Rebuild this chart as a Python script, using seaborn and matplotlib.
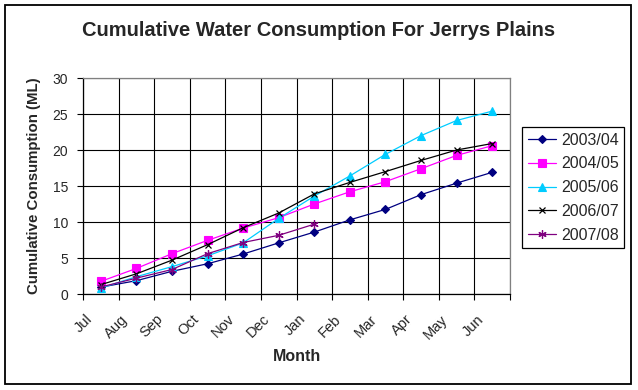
import numpy as np
import pandas as pd
import seaborn as sns
import matplotlib
matplotlib.use("Agg")
import matplotlib.pyplot as plt
from matplotlib.transforms import ScaledTranslation
from matplotlib.patches import Rectangle
from matplotlib.ticker import FixedLocator, MultipleLocator

months = ["Jul", "Aug", "Sep", "Oct", "Nov", "Dec", "Jan", "Feb", "Mar", "Apr", "May", "Jun"]
s2003_04 = [0.95, 1.85, 3.15, 4.2, 5.55, 7.1, 8.6, 10.3, 11.75, 13.8, 15.4, 16.9]
s2004_05 = [1.75, 3.55, 5.6, 7.45, 9.15, 10.6, 12.5, 14.2, 15.6, 17.4, 19.25, 20.6]
s2005_06 = [0.83, 2.4, 3.8, 5.3, 7.1, 10.5, 13.6, 16.4, 19.4, 22.0, 24.1, 25.4]
s2006_07 = [1.3, 2.8, 4.7, 6.85, 9.2, 11.25, 13.9, 15.5, 17.0, 18.55, 20.0, 20.9]
s2007_08 = [0.97, 2.2, 3.4, 5.6, 7.15, 8.15, 9.7]
series_names = ["2003/04", "2004/05", "2005/06", "2006/07", "2007/08"]
series_values = [s2003_04, s2004_05, s2005_06, s2006_07, s2007_08]

styles = {
    "2003/04": dict(color="#000080", marker="D", markersize=4.2, mec="#000080", mew=0.8),
    "2004/05": dict(color="#FF00FF", marker="s", markersize=5.2, mec="#FF00FF", mew=0.8),
    "2005/06": dict(color="#00CCFF", marker="^", markersize=5.5, mec="#00CCFF", mew=0.8),
    "2006/07": dict(color="#000000", marker="x", markersize=5.0, mec="#000000", mew=0.9),
    "2007/08": dict(color="#800080", marker=(6, 2, 0), markersize=6.0, mec="#800080", mew=0.9),
}

sns.set_theme(style="white")
plt.rcParams["font.family"] = ["Liberation Sans", "DejaVu Sans"]

W, H = 638, 390
fig = plt.figure(figsize=(W / 100, H / 100), dpi=100)
fig.patch.set_facecolor("white")
ax = fig.add_axes([83 / W, 1 - 294 / H, (510 - 83) / W, (294 - 78) / H])
ax.set_facecolor("white")

for name, vals in zip(series_names, series_values):
    st = styles[name]
    x = np.arange(len(vals))
    sns.lineplot(x=x, y=vals, ax=ax, color=st["color"], linewidth=0.9,
                 marker=st["marker"], markersize=st["markersize"],
                 markeredgecolor=st["mec"], markeredgewidth=st["mew"],
                 label=name, legend=False)

n = len(months)
ax.set_xlim(-0.5, n - 0.5)
ax.set_ylim(0, 30)
ax.yaxis.set_major_locator(MultipleLocator(5))
ax.set_xticks(np.arange(n))
ax.set_xticklabels(months, rotation=45, ha="right", fontsize=10.5)
ax.xaxis.set_minor_locator(FixedLocator(np.arange(-0.5, n, 1.0)))
ax.tick_params(axis="x", which="major", length=0, pad=13)
ax.tick_params(axis="x", which="minor", length=4, width=0.8, color="black", direction="out", bottom=True)
ax.tick_params(axis="y", which="major", length=4.3, width=0.8, color="black", direction="out", left=True, pad=6.5, labelsize=10)
offset = ScaledTranslation(-6 / 100, 0, fig.dpi_scale_trans)
for lbl in ax.get_xticklabels():
    lbl.set_transform(lbl.get_transform() + offset)

ax.grid(False)
ax.yaxis.grid(True, which="major", color="black", linewidth=0.8)
ax.xaxis.grid(True, which="minor", color="black", linewidth=0.8)
ax.set_axisbelow(True)
for side in ["left", "bottom"]:
    ax.spines[side].set_color("black")
    ax.spines[side].set_linewidth(0.9)
for side in ["top", "right"]:
    ax.spines[side].set_color("#808080")
    ax.spines[side].set_linewidth(0.9)

ax.set_xlabel("Month", fontsize=11.5, fontweight="bold", labelpad=5)
ax.set_ylabel("Cumulative Consumption (ML)", fontsize=10.8, fontweight="bold", labelpad=8)
fig.text(319 / W, 1 - 31 / H, "Cumulative Water Consumption For Jerrys Plains",
         ha="center", va="center", fontsize=14.5, fontweight="bold")

handles, labels = ax.get_legend_handles_labels()
leg = ax.legend(handles, labels, loc="upper left", bbox_to_anchor=(522 / W, 1 - 127 / H),
                bbox_transform=fig.transFigure, frameon=True, fancybox=False,
                edgecolor="black", framealpha=1, fontsize=11.5, borderaxespad=0,
                borderpad=0.35, labelspacing=0.55, handlelength=1.8, handletextpad=0.3)
leg.get_frame().set_linewidth(0.9)

fig.add_artist(Rectangle((5 / W, 1 - 384 / H), (631 - 5) / W, (384 - 5) / H,
                         transform=fig.transFigure, fill=False, edgecolor="black", linewidth=1.3))

fig.savefig("out.png", dpi=100)
